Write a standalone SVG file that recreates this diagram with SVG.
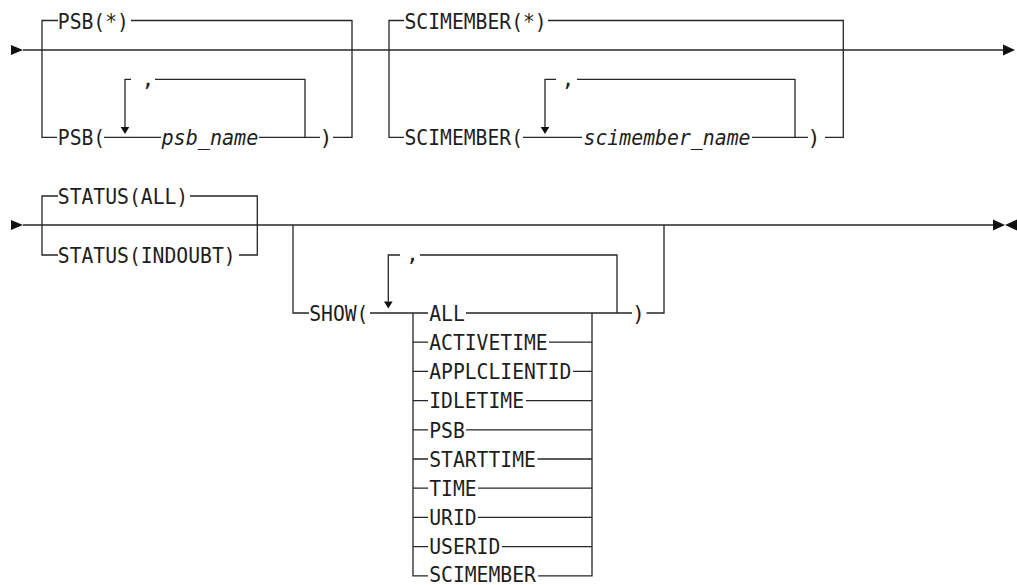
<svg xmlns="http://www.w3.org/2000/svg" width="1017" height="585" viewBox="0 0 1017 585">
<style>
.c{fill:none;stroke:#262626;stroke-width:1.3}
.a{fill:#111;stroke:none}
text{font-family:"DejaVu Sans Mono","Liberation Mono",monospace;font-size:21.5px;fill:#1e1e1e}
.i{font-style:italic}
.m{text-anchor:middle}
</style>
<rect width="1017" height="585" fill="#fff"/>
<g id="connectors">
<path class="c" d="M23,50 H1003"/>
<path class="c" d="M58,20.5 H42 V137.3 H57"/>
<path class="c" d="M131,20.5 H352 V137.3 H333"/>
<path class="c" d="M104,137.3 H161 M259,137.3 H320"/>
<path class="c" d="M125,127 V79.3 H131 M155,79.3 H305 V137.3"/>
<path class="c" d="M404,20.5 H389 V137.3 H404"/>
<path class="c" d="M548,20.5 H843.3 V137.3 H825"/>
<path class="c" d="M523,137.3 H582 M752,137.3 H808"/>
<path class="c" d="M545,127 V79.3 H556 M577,79.3 H795 V137.3"/>
<polygon class="a" points="11,45 23,50 11,55"/>
<polygon class="a" points="1003,44.5 1015,50 1003,55.5"/>
<polygon class="a" points="120.7,127 129.3,127 125,134"/>
<polygon class="a" points="540.7,127 549.3,127 545,134"/>
<path class="c" d="M23,225 H993"/>
<path class="c" d="M58,196 H42 V255 H58"/>
<path class="c" d="M190,196 H257.3 V255 H239"/>
<path class="c" d="M293,225 V313 H309"/>
<path class="c" d="M370,313 H428 M466,313 H632 M646.5,313 H664 V225"/>
<path class="c" d="M388.3,301.5 V255 H400 M420,255 H617 V313"/>
<path class="c" d="M413,313 V575.8 H428"/>
<path class="c" d="M592,313 V575.8 H538"/>
<path class="c" d="M549,342.2 H592 M573,371.4 H592 M526,400.6 H592 M466,429.8 H592 M537.5,459 H592 M478,488.2 H592 M478,517.4 H592 M502,546.6 H592"/>
<path class="c" d="M413,342.2 H428 M413,371.4 H428 M413,400.6 H428 M413,429.8 H428 M413,459 H428 M413,488.2 H428 M413,517.4 H428 M413,546.6 H428"/>
<polygon class="a" points="11,220 23,225 11,230"/>
<polygon class="a" points="993,219.5 1005,225 993,230.5"/>
<polygon class="a" points="1017,219.5 1005,225 1017,230.5"/>
<polygon class="a" points="384,301.5 392.6,301.5 388.3,308.5"/>
</g>
<g id="psb-star"><text x="57.8" y="28.5" textLength="71.1" lengthAdjust="spacingAndGlyphs">PSB(*)</text></g>
<g id="psb-open"><text x="57.8" y="145.3" textLength="47.4" lengthAdjust="spacingAndGlyphs">PSB(</text></g>
<g id="psb-name"><text class="i" x="161.5" y="145.3" textLength="96.8" lengthAdjust="spacingAndGlyphs">psb_name</text></g>
<g id="psb-close"><text class="m" x="326" y="145.3">)</text></g>
<g id="psb-comma"><text class="m" x="148" y="85.5">,</text></g>
<g id="sci-star"><text x="404.5" y="28.5" textLength="142.2" lengthAdjust="spacingAndGlyphs">SCIMEMBER(*)</text></g>
<g id="sci-open"><text x="404.5" y="145.3" textLength="118.5" lengthAdjust="spacingAndGlyphs">SCIMEMBER(</text></g>
<g id="sci-name"><text class="i" x="583.5" y="145.3" textLength="167" lengthAdjust="spacingAndGlyphs">scimember_name</text></g>
<g id="sci-close"><text class="m" x="814" y="145.3">)</text></g>
<g id="sci-comma"><text class="m" x="568" y="85.5">,</text></g>
<g id="status-all"><text x="57.8" y="203.8" textLength="130.4" lengthAdjust="spacingAndGlyphs">STATUS(ALL)</text></g>
<g id="status-indoubt"><text x="57.8" y="262.8" textLength="177.8" lengthAdjust="spacingAndGlyphs">STATUS(INDOUBT)</text></g>
<g id="show-open"><text x="309.2" y="321" textLength="59.3" lengthAdjust="spacingAndGlyphs">SHOW(</text></g>
<g id="show-close"><text class="m" x="638.5" y="321">)</text></g>
<g id="show-comma"><text class="m" x="412.5" y="261.2">,</text></g>
<g id="opt-all"><text x="429.2" y="320.8" textLength="35.6" lengthAdjust="spacingAndGlyphs">ALL</text></g>
<g id="opt-activetime"><text x="429.2" y="350" textLength="118.5" lengthAdjust="spacingAndGlyphs">ACTIVETIME</text></g>
<g id="opt-applclientid"><text x="429.2" y="379.2" textLength="142.2" lengthAdjust="spacingAndGlyphs">APPLCLIENTID</text></g>
<g id="opt-idletime"><text x="429.2" y="408.4" textLength="94.8" lengthAdjust="spacingAndGlyphs">IDLETIME</text></g>
<g id="opt-psb"><text x="429.2" y="437.6" textLength="35.6" lengthAdjust="spacingAndGlyphs">PSB</text></g>
<g id="opt-starttime"><text x="429.2" y="466.8" textLength="106.7" lengthAdjust="spacingAndGlyphs">STARTTIME</text></g>
<g id="opt-time"><text x="429.2" y="496" textLength="47.4" lengthAdjust="spacingAndGlyphs">TIME</text></g>
<g id="opt-urid"><text x="429.2" y="525.2" textLength="47.4" lengthAdjust="spacingAndGlyphs">URID</text></g>
<g id="opt-userid"><text x="429.2" y="554.4" textLength="71.1" lengthAdjust="spacingAndGlyphs">USERID</text></g>
<g id="opt-scimember"><text x="429.2" y="581.5" textLength="106.7" lengthAdjust="spacingAndGlyphs">SCIMEMBER</text></g>
</svg>
